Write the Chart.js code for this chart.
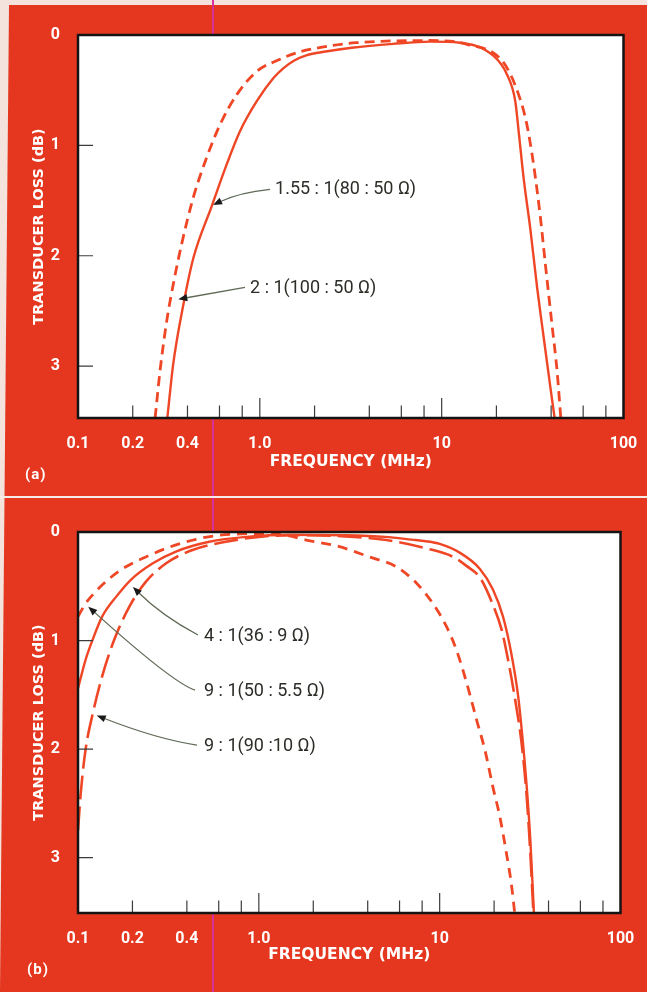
<!DOCTYPE html>
<html><head><meta charset="utf-8">
<script src="https://cdn.jsdelivr.net/npm/chart.js@4.4.0/dist/chart.umd.min.js"></script>
<style>
html,body{margin:0;padding:0;background:#f3e3dc;}
#page{position:relative;width:647px;height:992px;overflow:hidden;}
#red{position:absolute;left:0;top:0;width:647px;height:992px;background:#e5371f;clip-path:polygon(9px 5px,647px 5px,647px 992px,0 992px);}
#scan{position:absolute;left:212px;top:0;width:1.5px;height:992px;background:#d8309a;}
#sep{position:absolute;left:0;top:496px;width:647px;height:2px;background:#f7ebe6;}
.wrap{position:absolute;left:0;width:647px;}
#wa{top:0;height:497px}
#wb{top:497px;height:495px}
canvas{display:block}
.panel{position:absolute;color:#fff;font:bold 15px Roboto, 'Liberation Sans', sans-serif;letter-spacing:1px;line-height:18px;}
</style></head>
<body>
<div id="page">
  <div id="red"></div>
  <div id="scan"></div>
  <div id="sep"></div>
  <div class="wrap" id="wa"><canvas id="ca" width="647" height="497"></canvas></div>
  <div class="wrap" id="wb"><canvas id="cb" width="647" height="495"></canvas></div>
  <div class="panel" style="left:25px;top:465px">(a)</div>
  <div class="panel" style="left:27px;top:960px">(b)</div>
</div>
<script>
// ---- axis ticks / labels ----
const xLabelValues = [0.1, 0.2, 0.4, 1, 10, 100];
const xLabels = ['0.1', '0.2', '0.4', '1.0', '10', '100'];
const xMinorMarks = [0.2, 0.4, 0.6, 0.8, 2, 4, 6, 8, 20, 40, 60, 80];
const xMajorMarks = [1, 10];
const yLabelValues = [0, 1, 2, 3];
const yMarks = [1, 2, 3];

// ---- panel (a) ----
const aSolidFreq = [0.310,0.334,0.380,0.431,0.544,0.658,0.779,0.962,1.188,1.35,1.53,1.8,2.3,3.2,5.4,8.6,12.6,19.3,22.9,25.4,26.5,28.2,30.8,33.5,36.4,39.6,41.8];
const aSolidLoss = [3.47,2.98,2.44,2.02,1.55,1.17,0.87,0.60,0.39,0.30,0.235,0.185,0.15,0.115,0.08,0.06,0.07,0.19,0.36,0.60,0.87,1.29,1.77,2.29,2.74,3.19,3.47];
const aDashFreq = [0.2655,0.2827,0.3077,0.334,0.372,0.431,0.51,0.605,0.747,0.962,1.29,1.6,2.2,3.39,8.6,13.8,21.9,26.5,29.4,32.0,34.9,37.2,40.4,43.1,45.2];
const aDashLoss = [3.47,3.04,2.59,2.26,1.89,1.47,1.11,0.81,0.54,0.33,0.22,0.16,0.11,0.07,0.05,0.085,0.25,0.54,0.81,1.17,1.65,2.08,2.62,3.04,3.47];

// ---- panel (b) ----
const bSolidFreq = [0.1,0.110,0.120,0.136,0.162,0.196,0.258,0.348,0.532,0.85,1.5,3.0,5.0,7.0,8.4,10.0,12.9,16.7,19.7,22.4,24.9,27.2,28.9,30.5,31.8,33.2];
const bSolidLoss = [1.44,1.18,1.0,0.78,0.60,0.44,0.29,0.18,0.09,0.045,0.025,0.03,0.045,0.07,0.085,0.11,0.19,0.34,0.53,0.78,1.12,1.52,1.95,2.41,2.87,3.51];
const bLongFreq = [0.1,0.1035,0.110,0.120,0.136,0.158,0.192,0.237,0.306,0.43,0.658,1.0,1.5,3.0,5.07,8.4,11.9,14.0,16.7,19.7,22.0,23.9,26.0,28.4,30.2,31.5,33.0];
const bLongLoss = [2.75,2.41,2.01,1.69,1.33,1.0,0.69,0.46,0.29,0.166,0.09,0.045,0.03,0.04,0.074,0.15,0.23,0.31,0.42,0.67,0.90,1.18,1.52,1.95,2.41,2.87,3.51];
const bShortFreq = [0.1,0.110,0.125,0.149,0.184,0.237,0.319,0.449,0.604,1.0,1.4,1.83,2.79,4.09,5.75,7.43,9.18,10.9,12.4,14.1,16.0,17.8,19.7,21.5,23.4,24.9,26.0];
const bShortLoss = [0.78,0.66,0.55,0.43,0.32,0.23,0.14,0.067,0.03,0.015,0.03,0.074,0.135,0.23,0.32,0.47,0.66,0.87,1.09,1.39,1.73,2.01,2.35,2.62,2.96,3.24,3.51];

// ---- annotation labels (text, anchor, arrow) in data units ----
const notesA = [
  {text:'1.55 : 1(80 : 50 Ω)', at:[1.212,1.397], tail:[1.138,1.398], ctrl:[0.775,1.425], tip:[0.553,1.54]},
  {text:'2 : 1(100 : 50 Ω)', at:[0.8835,2.294], tail:[0.829,2.287], ctrl:[0.543,2.34], tip:[0.356,2.394]}
];
const notesB = [
  {text:'4 : 1(36 : 9 Ω)', at:[0.4977,0.959], tail:[0.461,0.949], ctrl:[0.2892,0.769], tip:[0.2014,0.507]},
  {text:'9 : 1(50 : 5.5 Ω)', at:[0.4977,1.472], tail:[0.4437,1.456], ctrl:[0.3388,1.397], tip:[0.114,0.688]},
  {text:'9 : 1(90 :10 Ω)', at:[0.4977,1.979], tail:[0.455,1.963], ctrl:[0.272,1.907], tip:[0.1269,1.69]}
];

const LINE = '#ef4626';
const TICKFONT = {family:"Roboto, 'Liberation Sans', sans-serif", weight:'bold', size:16};
const TITLEFONT = {family:"'DejaVu Sans', 'Liberation Sans', sans-serif", weight:'bold', size:15.5};
const YTITLEFONT = {family:"'DejaVu Sans', 'Liberation Sans', sans-serif", weight:'bold', size:14.5};

const framePlugin = {
  id: 'frame',
  beforeDraw(chart) {
    const {ctx, chartArea: a} = chart;
    ctx.save();
    ctx.fillStyle = '#ffffff';
    ctx.fillRect(a.left, a.top, a.right - a.left, a.bottom - a.top);
    ctx.restore();
  },
  afterDatasetsDraw(chart, args, opts) {
    const {ctx, chartArea: a} = chart;
    const xs = chart.scales.x, ys = chart.scales.y;
    ctx.save();
    // tick marks inside the frame
    ctx.strokeStyle = '#3c3c3c';
    ctx.lineWidth = 1.2;
    ctx.beginPath();
    xMinorMarks.forEach(v => { const p = xs.getPixelForValue(v); ctx.moveTo(p, a.bottom); ctx.lineTo(p, a.bottom - 12.5); });
    xMajorMarks.forEach(v => { const p = xs.getPixelForValue(v); ctx.moveTo(p, a.bottom); ctx.lineTo(p, a.bottom - 20); });
    yMarks.forEach(v => { const p = ys.getPixelForValue(v); ctx.moveTo(a.left, p); ctx.lineTo(a.left + 15, p); });
    ctx.stroke();
    // frame
    ctx.strokeStyle = '#141414';
    ctx.lineWidth = 2.5;
    ctx.strokeRect(a.left, a.top, a.right - a.left, a.bottom - a.top);
    // annotations
    (opts.notes || []).forEach(n => {
      const P = d => [xs.getPixelForValue(d[0]), ys.getPixelForValue(d[1])];
      const tl = P(n.tail), c = P(n.ctrl), tp = P(n.tip), at = P(n.at);
      let dx = tp[0] - c[0], dy = tp[1] - c[1];
      const L = Math.hypot(dx, dy); dx /= L; dy /= L;
      const hl = 9, hw = 3.6;
      const base = [tp[0] - dx * hl, tp[1] - dy * hl];
      ctx.strokeStyle = '#5f6a57';
      ctx.lineWidth = 1.3;
      ctx.beginPath();
      ctx.moveTo(tl[0], tl[1]);
      ctx.quadraticCurveTo(c[0], c[1], base[0] + dx * 2, base[1] + dy * 2);
      ctx.stroke();
      ctx.fillStyle = '#1a1a1a';
      ctx.beginPath();
      ctx.moveTo(tp[0], tp[1]);
      ctx.lineTo(base[0] - dy * hw, base[1] + dx * hw);
      ctx.lineTo(base[0] + dy * hw, base[1] - dx * hw);
      ctx.closePath();
      ctx.fill();
      ctx.fillStyle = '#2b2e27';
      ctx.font = "18px Roboto, 'Liberation Sans', sans-serif";
      ctx.textBaseline = 'middle';
      ctx.textAlign = 'left';
      ctx.fillText(n.text, at[0], at[1]);
    });
    ctx.restore();
  }
};

function series(label, freq, loss, width, dash) {
  return {
    label: label,
    data: freq.map((f, i) => ({x: f, y: loss[i]})),
    borderColor: LINE,
    borderWidth: width,
    borderDash: dash,
    borderCapStyle: 'butt',
    pointRadius: 0,
    fill: false,
    cubicInterpolationMode: 'monotone'
  };
}

function build(id, cfg) {
  return new Chart(document.getElementById(id), {
    type: 'line',
    data: {datasets: cfg.datasets},
    options: {
      responsive: false,
      animation: false,
      devicePixelRatio: 1,
      layout: {autoPadding: false, padding: {left: 0, top: 35, right: cfg.padRight, bottom: 0}},
      plugins: {legend: {display: false}, tooltip: {enabled: false}, frame: {notes: cfg.notes}},
      scales: {
        x: {
          type: 'logarithmic', position: 'bottom', min: 0.1, max: 100,
          afterFit(s) { s.height = 79; },
          afterBuildTicks(s) { s.ticks = xLabelValues.map(v => ({value: v})); },
          grid: {display: false}, border: {display: false},
          ticks: {
            color: '#ffffff', font: TICKFONT, padding: 8, maxRotation: 0, autoSkip: false,
            callback: v => { const i = xLabelValues.indexOf(v); return i >= 0 ? xLabels[i] : ''; }
          },
          title: {display: true, text: 'FREQUENCY (MHz)', color: '#ffffff', font: TITLEFONT,
                  padding: {top: 0, bottom: cfg.xTitlePad}}
        },
        y: {
          type: 'linear', position: 'left', reverse: true, min: 0, max: cfg.yMax,
          afterFit(s) { s.width = 78; },
          afterBuildTicks(s) { s.ticks = yLabelValues.map(v => ({value: v})); },
          grid: {display: false}, border: {display: false},
          ticks: {color: '#ffffff', font: TICKFONT, padding: 10, callback: v => String(v)},
          title: {display: true, text: 'TRANSDUCER LOSS (dB)', color: '#ffffff', font: YTITLEFONT,
                  padding: {top: 30.3, bottom: 0}}
        }
      }
    },
    plugins: [framePlugin]
  });
}

build('ca', {
  padRight: 23.5, yMax: 3.47, xTitlePad: 25.5, notes: notesA,
  datasets: [
    series('1.55 : 1(80 : 50 Ω)', aSolidFreq, aSolidLoss, 2.4, []),
    series('2 : 1(100 : 50 Ω)', aDashFreq, aDashLoss, 2.8, [10, 6])
  ]
});

build('cb', {
  padRight: 26.5, yMax: 3.51, xTitlePad: 27.5, notes: notesB,
  datasets: [
    series('4 : 1(36 : 9 Ω)', bSolidFreq, bSolidLoss, 2.4, []),
    series('9 : 1(50 : 5.5 Ω)', bShortFreq, bShortLoss, 2.8, [10, 7]),
    series('9 : 1(90 :10 Ω)', bLongFreq, bLongLoss, 2.6, [24, 7])
  ]
});
</script>
</body></html>
